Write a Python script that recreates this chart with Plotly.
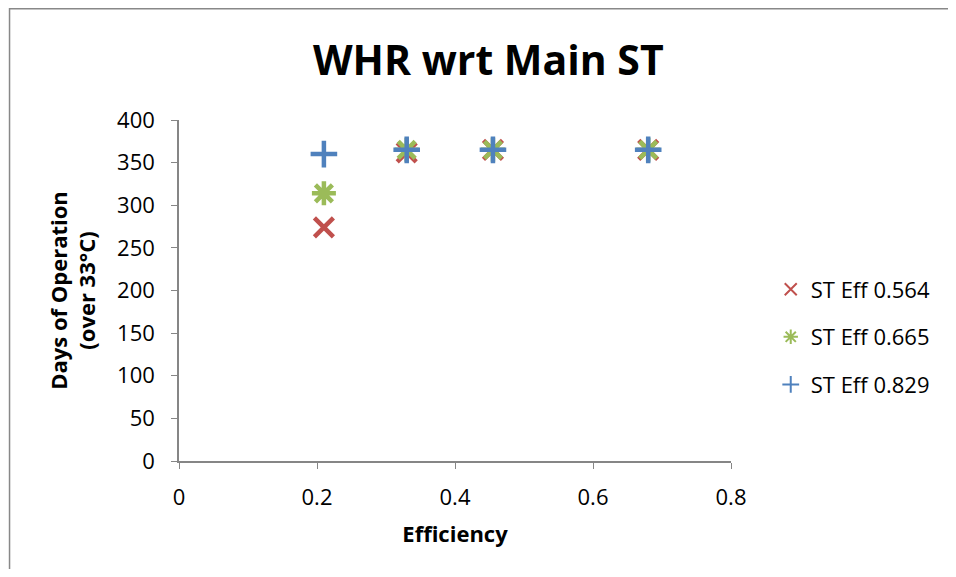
import plotly.graph_objects as go

# efficiency values
eff = [0.21, 0.33, 0.455, 0.68]

# days of operation over 33 C, one list per steam-turbine efficiency
days_564 = [274, 362, 365, 365]
days_665 = [314, 365, 365, 365]
days_829 = [360, 365, 365, 365]

series_names = ["ST Eff 0.564", "ST Eff 0.665", "ST Eff 0.829"]

FONT = "'Open Sans', Lato, Arial"

fig = go.Figure()

styles = [
    ("x-thin-open", "#C0504D", 19),
    ("asterisk-open", "#9BBB59", 20),
    ("cross-thin-open", "#4F81BD", 19),
]

for name, ys, (sym, col, sz) in zip(series_names, [days_564, days_665, days_829], styles):
    fig.add_trace(go.Scatter(
        x=eff, y=ys, mode="markers", name=name, legendgroup=name,
        marker=dict(symbol=sym, size=sz, color=col, line=dict(color=col, width=4.5)),
    ))

# the page body has an 8px margin, so the figure is sized to fit inside it
fig.update_layout(
    width=940, height=561,
    paper_bgcolor="white", plot_bgcolor="white",
    font=dict(family=FONT, size=22, color="black"),
    margin=dict(l=171, r=215, t=112, b=108),
    title=dict(text="<b>WHR wrt Main ST</b>", x=0.511, xanchor="center",
               y=0.907, yanchor="middle", font=dict(size=41, family=FONT)),
    showlegend=True,
    legend=dict(x=1.072, xanchor="left", y=0.364, yanchor="middle",
                font=dict(size=22, family=FONT), tracegroupgap=16,
                itemsizing="constant", itemwidth=30),
)

fig.update_xaxes(
    range=[0, 0.8], showgrid=False, zeroline=False,
    showline=True, linecolor="#868686", linewidth=1.5,
    ticks="outside", ticklen=6, tickcolor="#868686", ticklabelstandoff=10,
    tickvals=[0, 0.2, 0.4, 0.6, 0.8], ticktext=["0", "0.2", "0.4", "0.6", "0.8"],
    title=dict(text="<b>Efficiency</b>", font=dict(size=22, family=FONT), standoff=16),
)
fig.update_yaxes(
    range=[0, 400], dtick=50, showgrid=False, zeroline=False,
    showline=True, linecolor="#868686", linewidth=1.5,
    ticks="outside", ticklen=6, tickcolor="#868686", ticklabelstandoff=12,
    title=dict(text="<b>Days of Operation<br>(over 33°C)</b>",
               font=dict(size=22, family=FONT), standoff=15),
)

# outer chart frame (left and top edges visible, the rest cut off)
fig.add_shape(type="rect", xref="paper", yref="paper",
              x0=-0.307, x1=1.5, y0=-0.6, y1=1.326,
              line=dict(color="#888888", width=1.5))

fig.write_html("out.html")
